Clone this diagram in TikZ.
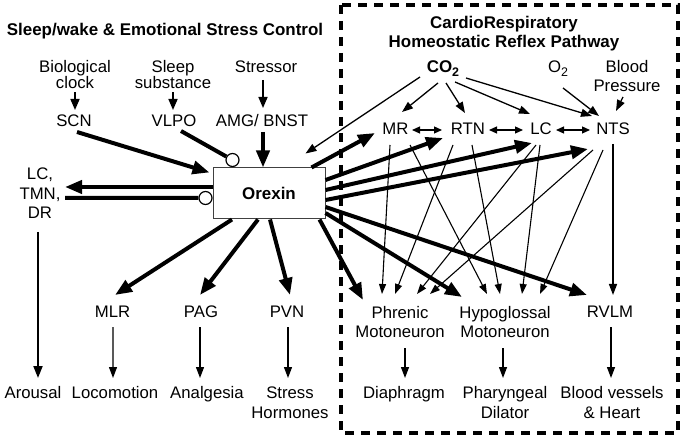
\documentclass[tikz,border=0pt]{standalone}
\usepackage{fontspec}
\setmainfont{Liberation Sans}
\usetikzlibrary{arrows.meta,calc}
\begin{document}
\lineskiplimit=-20pt
\begin{tikzpicture}[x=1bp,y=-1bp,
  lbl/.style={font=\fontsize{16.8}{20}\selectfont, inner sep=0pt, anchor=base, align=center},
  lbltight/.style={font=\fontsize{16.8}{16.5}\selectfont, inner sep=0pt, anchor=base, align=center},
  ttl/.style={font=\fontsize{17}{19.5}\selectfont\bfseries, inner sep=0pt, anchor=base, align=center},
  bigarr/.style={line width=4bp, -{Triangle[length=17bp,width=13bp]}},
  finearr/.style={line width=1.1bp, -{Triangle[length=10bp,width=7bp]}},
  medarr/.style={line width=1.3bp, -{Triangle[length=11bp,width=8bp]}},
  inarr/.style={line width=1.6bp, -{Triangle[length=11bp,width=9bp]}},
  dblarr/.style={line width=1.2bp, {Triangle[length=8bp,width=7bp]}-{Triangle[length=8bp,width=7bp]}},
  inhib/.style={circle, draw, fill=white, line width=1.2bp, minimum size=13bp, inner sep=0pt},
  framebox/.style={dash pattern=on 9bp off 7bp, line width=3.5bp}
]
\useasboundingbox (0,0) rectangle (685,439);
\draw[framebox] (341,5) rectangle (678,433);

% left part (multi-line nodes are placed by the baseline of their last line)
\node[ttl] (title1) at (165,36) {Sleep/wake \& Emotional Stress Control};
\node[lbltight] (bio) at (75,88.5) {Biological\\clock};
\node[lbltight] (sleep) at (173,88.5) {Sleep\\substance};
\node[lbl] (stressor) at (266,73) {Stressor};
\node[lbl] (SCN) at (74,127) {SCN};
\node[lbl] (VLPO) at (174,127) {VLPO};
\node[lbl] (AMG) at (262,127) {AMG/ BNST};
\node[draw=black!75, line width=1bp, minimum width=112bp, minimum height=51bp, inner sep=0pt,
      font=\fontsize{17}{20}\selectfont\bfseries] (orexin) at (269,193.5) {Orexin};
\node[lbl] (lctmn) at (40,219) {LC,\\TMN,\\DR};
\node[lbl] (MLR) at (112.5,318) {MLR};
\node[lbl] (PAG) at (201,318) {PAG};
\node[lbl] (PVN) at (287,318) {PVN};
\node[lbl] (arousal) at (33,398) {Arousal};
\node[lbl] (locomotion) at (115,398) {Locomotion};
\node[lbl] (analgesia) at (207,398) {Analgesia};
\node[lbl] (stresshorm) at (290,418) {Stress\\Hormones};

% right part
\node[ttl] (title2) at (504,47.5) {CardioRespiratory\\Homeostatic Reflex Pathway};
\node[lbl, font=\fontsize{17}{20}\selectfont\bfseries] (CO2) at (443,73) {CO\raisebox{-4bp}{\fontsize{12.5}{13}\selectfont 2}};
\node[lbl] (O2) at (558,73) {O\raisebox{-4bp}{\fontsize{12.5}{13}\selectfont 2}};
\node[lbl] (BP) at (627,92) {Blood\\Pressure};
\node[lbl] (MR) at (395.5,135) {MR};
\node[lbl] (RTN) at (468,135) {RTN};
\node[lbl] (LCr) at (541,135) {LC};
\node[lbl] (NTS) at (613,135) {NTS};
\node[lbl] (phr) at (400,338) {Phrenic\\Motoneuron};
\node[lbl] (hyp) at (505,338) {Hypoglossal\\Motoneuron};
\node[lbl] (RVLM) at (610,318) {RVLM};
\node[lbl] (diaph) at (404,398) {Diaphragm};
\node[lbl] (phar) at (505,418) {Pharyngeal\\Dilator};
\node[lbl] (bv) at (612,418) {Blood vessels\\\& Heart};

% inhibitory end circles
\node[inhib] (inhV) at ($(orexin.north west)+(20,-7.5)$) {};
\node[inhib] (inhL) at ($(orexin.west)+(-7,4.5)$) {};

% inputs left
\draw[inarr] ($(bio.base)+(0,4)$) -- ($(SCN.base)+(1,-17)$);
\draw[inarr] ($(sleep.base)+(0,4)$) -- ($(VLPO.base)+(-1,-17)$);
\draw[inarr] ($(stressor.base)+(-3,7)$) -- ($(AMG.base)+(1,-19)$);
\draw[bigarr] ($(AMG.base)+(1,5)$) -- ($(orexin.north)+(-6,0)$);
\draw[bigarr] ($(SCN.base)+(3,5)$) -- ($(orexin.north west)+(-3,5)$);
\draw[line width=4bp] ($(VLPO.base)+(7,4)$) -- (inhV);
\draw[bigarr] ($(orexin.west)+(0,-6.5)$) -- ($(lctmn.base)+(25,-32)$);
\draw[line width=4bp] ($(lctmn.base)+(25,-21)$) -- (inhL);
\draw[line width=2bp, -{Triangle[length=12bp,width=9bp]}] ($(lctmn.base)+(-2,13)$) -- ($(arousal.base)+(5,-20)$);

% orexin downward
\draw[bigarr] ($(orexin.south)+(-37,0)$) -- ($(MLR.base)+(2.5,-23)$);
\draw[bigarr] ($(orexin.south)+(-11,0)$) -- ($(PAG.base)+(-1,-23)$);
\draw[bigarr] ($(orexin.south)+(1,0)$) -- ($(PVN.base)+(3,-23)$);
\draw[medarr] ($(MLR.base)+(0.5,9)$) -- ($(locomotion.base)+(-2,-20)$);
\draw[medarr] ($(PAG.base)+(-1,9)$) -- ($(analgesia.base)+(-7,-20)$);
\draw[medarr] ($(PVN.base)+(1,9)$) -- ($(stresshorm.base)+(-2,-40)$);

% CO2 / O2 / BP inputs
\draw[medarr] ($(CO2.base)+(-23,4)$) -- ($(orexin.north east)+(-20,-14)$);
\draw[medarr] ($(CO2.base)+(-5,10)$) -- ($(MR.base)+(6.5,-23)$);
\draw[medarr] ($(CO2.base)+(3,10)$) -- ($(RTN.base)+(-3,-22)$);
\draw[medarr] ($(CO2.base)+(12,9)$) -- ($(LCr.base)+(-11,-21)$);
\draw[medarr] ($(CO2.base)+(23,5)$) -- ($(NTS.base)+(-21,-19)$);
\draw[medarr] ($(O2.base)+(5,15)$) -- ($(NTS.base)+(-14,-19)$);
\draw[medarr] ($(BP.base)+(-4,5)$) -- ($(NTS.base)+(3,-24)$);

% mutual links
\draw[dblarr] ($(MR.base)+(16.5,-5)$) -- ($(RTN.base)+(-26,-5)$);
\draw[dblarr] ($(RTN.base)+(21,-5)$) -- ($(LCr.base)+(-18,-5)$);
\draw[dblarr] ($(LCr.base)+(15,-5)$) -- ($(NTS.base)+(-23,-5)$);

% fan to motoneurons
\draw[finearr] ($(MR.base)+(-5.5,10)$) -- ($(phr.base)+(-18,-44)$);
\draw[finearr] ($(MR.base)+(14.5,10)$) -- ($(hyp.base)+(-18,-44)$);
\draw[finearr] ($(RTN.base)+(-15,10)$) -- ($(phr.base)+(-5,-44)$);
\draw[finearr] ($(RTN.base)+(4,10)$) -- ($(hyp.base)+(-5,-44)$);
\draw[finearr] ($(LCr.base)+(-5,10)$) -- ($(phr.base)+(17,-44)$);
\draw[finearr] ($(LCr.base)+(-1,10)$) -- ($(hyp.base)+(17,-44)$);
\draw[finearr] ($(NTS.base)+(-20,15)$) -- ($(phr.base)+(30,-44)$);
\draw[finearr] ($(NTS.base)+(-10,15)$) -- ($(hyp.base)+(35,-44)$);
\draw[line width=1.5bp, -{Triangle[length=11bp,width=8bp]}] ($(NTS.base)+(0,9)$) -- ($(RVLM.base)+(3,-23)$);

% orexin to right side
\draw[bigarr] ($(orexin.north east)+(-14,0)$) -- ($(MR.base)+(-20.5,-2)$);
\draw[bigarr] ($(orexin.east)+(0,-13.5)$) -- ($(RTN.base)+(-25,3)$);
\draw[bigarr] ($(orexin.east)+(0,-3.5)$) -- ($(LCr.base)+(-9,8)$);
\draw[bigarr] ($(orexin.east)+(0,6.5)$) -- ($(NTS.base)+(-25,14)$);
\draw[bigarr] ($(orexin.east)+(0,13.5)$) -- ($(RVLM.base)+(-23,-23)$);
\draw[bigarr] ($(orexin.east)+(0,19.5)$) -- ($(hyp.base)+(-43,-41)$);
\draw[bigarr] ($(orexin.south east)+(-6,0)$) -- ($(phr.base)+(-37,-38)$);

% outputs
\draw[medarr] ($(phr.base)+(5,10)$) -- ($(diaph.base)+(1,-20)$);
\draw[medarr] ($(hyp.base)+(-2,10)$) -- ($(phar.base)+(-2,-40)$);
\draw[medarr] ($(RVLM.base)+(1,9)$) -- ($(bv.base)+(-1,-40)$);
\end{tikzpicture}
\end{document}
